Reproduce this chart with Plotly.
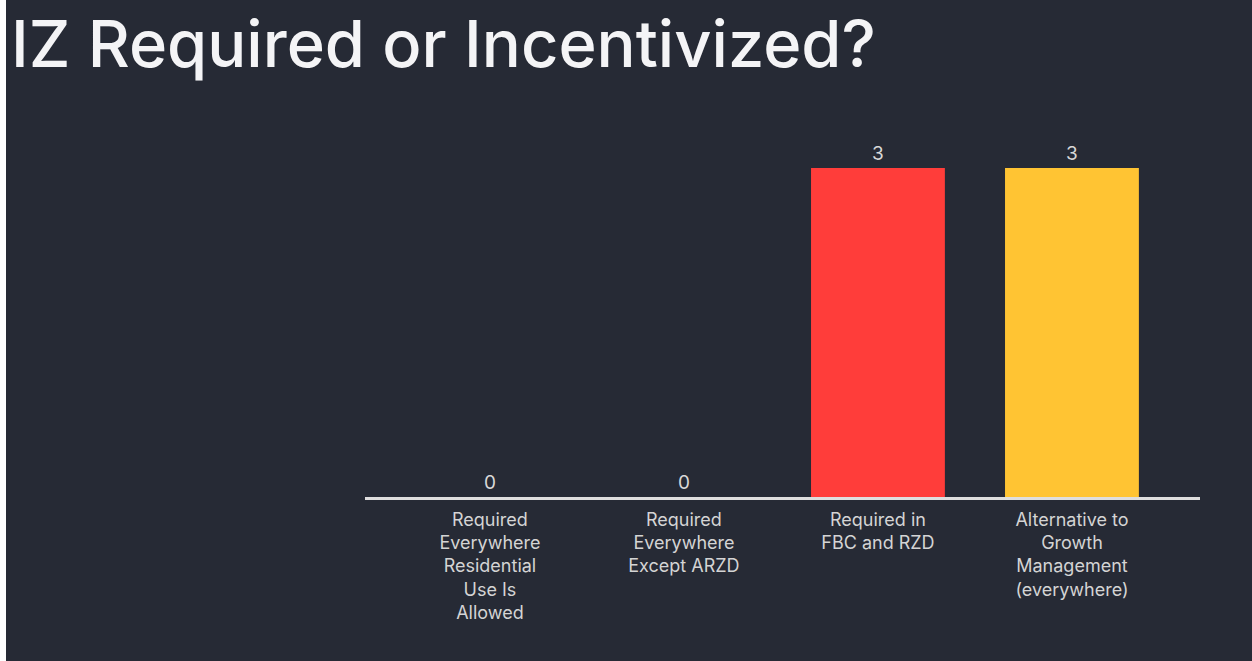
import plotly.graph_objects as go

categories = [
    "Required<br>Everywhere<br>Residential<br>Use Is<br>Allowed",
    "Required<br>Everywhere<br>Except ARZD",
    "Required in<br>FBC and RZD",
    "Alternative to<br>Growth<br>Management<br>(everywhere)",
]
values = [0, 0, 3, 3]
bar_colors = ["#4a90d9", "#8bc34a", "#ff3d3a", "#ffc433"]
title_text = "IZ Required or Incentivized?"

W, H = 1252, 661
ml, mr, mt, mb = 365, 52, 120, 164
bg = "#262a35"

fig = go.Figure(go.Bar(
    x=list(range(len(categories))),
    y=values,
    marker=dict(color=bar_colors, line=dict(width=0)),
    width=0.69,
    text=[str(v) for v in values],
    textposition="outside",
    textfont=dict(family="Inter, Roboto, sans-serif", size=19, color="#d8d8d8"),
    cliponaxis=False,
))

# white strip at left edge
pw = W - ml - mr
fig.add_shape(type="rect", xref="paper", yref="paper",
              x0=-ml / pw, x1=(6 - ml) / pw, y0=-2, y1=2,
              fillcolor="white", line=dict(width=0), layer="above")

fig.update_layout(
    width=W, height=H,
    margin=dict(l=ml, r=mr, t=mt, b=mb),
    paper_bgcolor=bg, plot_bgcolor=bg,
    showlegend=False,
    title=dict(text=title_text, x=11 / W, xanchor="left", xref="container",
               y=1 - 44 / H, yanchor="middle", yref="container",
               font=dict(family="Inter, Roboto, sans-serif", size=65, weight=500,
                         color="#f4f4f6")),
    xaxis=dict(
        tickmode="array", tickvals=list(range(len(categories))), ticktext=categories,
        range=[-0.644, 3.66],
        showline=True, linewidth=3, linecolor="#dedede",
        showgrid=False, zeroline=False,
        ticks="outside", ticklen=4, tickcolor="rgba(0,0,0,0)",
        tickfont=dict(family="Inter, Roboto, sans-serif", size=18, color="#d4d4d4"),
        tickangle=0,
    ),
    yaxis=dict(range=[0, 3 * 377 / 329], visible=False, showgrid=False, zeroline=False),
)

fig.write_html("out.html", config={"displayModeBar": False},
               post_script="document.body.style.margin='0';document.body.style.padding='0';")
